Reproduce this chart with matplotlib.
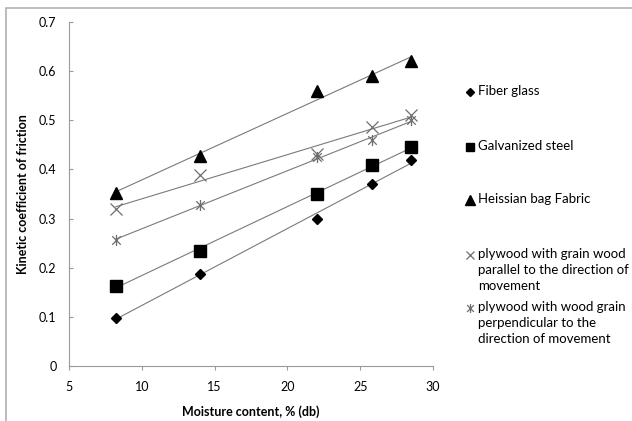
import numpy as np
import matplotlib
matplotlib.use("Agg")
import matplotlib.pyplot as plt
from matplotlib.path import Path
from matplotlib.lines import Line2D
from matplotlib.patches import Rectangle

plt.rcParams["font.family"] = ["Lato", "DejaVu Sans"]

moisture = [8.2, 14.0, 22.0, 25.8, 28.5]
fiber_glass = [0.097, 0.188, 0.300, 0.370, 0.420]
galvanized = [0.163, 0.235, 0.350, 0.408, 0.445]
heissian = [0.352, 0.428, 0.560, 0.590, 0.620]
ply_parallel = [0.320, 0.388, 0.432, 0.487, 0.510]
ply_perpendicular = [0.257, 0.327, 0.425, 0.460, 0.500]

labels = ["Fiber glass", "Galvanized steel", "Heissian bag Fabric",
          "plywood with grain wood\nparallel to the direction of\nmovement",
          "plywood with wood grain\nperpendicular to the\ndirection of movement"]

# Excel-style star marker: an x with a vertical bar
star = Path([(-1, -1), (1, 1), (-1, 1), (1, -1), (0, -1.3), (0, 1.3)],
            [Path.MOVETO, Path.LINETO, Path.MOVETO, Path.LINETO, Path.MOVETO, Path.LINETO])

series = [
    (fiber_glass, dict(marker="D", ms=5.5, color="black", mec="black")),
    (galvanized, dict(marker="s", ms=8, color="black", mec="black")),
    (heissian, dict(marker="^", ms=8.5, color="black", mec="black")),
    (ply_parallel, dict(marker="x", ms=8, color="#6e6e6e", mew=0.9)),
    (ply_perpendicular, dict(marker=star, ms=8, color="#6e6e6e", mew=0.9)),
]

fig = plt.figure(figsize=(6.32, 4.21), dpi=100)
ax = fig.add_axes([69 / 632, 55 / 421, 364 / 632, 344 / 421])

x = np.array(moisture)
xs = np.array([x.min(), x.max()])
for vals, style in series:
    k, b = np.polyfit(x, vals, 1)
    ax.plot(xs, k * xs + b, color="#7a7a7a", lw=0.8, zorder=2)
    ax.plot(x, vals, ls="none", zorder=3, **style)

ax.set_xlim(5, 30)
ax.set_ylim(0, 0.7)
ax.set_xticks([5, 10, 15, 20, 25, 30])
ax.set_yticks(np.arange(0, 0.71, 0.1))
ax.set_yticklabels(["0", "0.1", "0.2", "0.3", "0.4", "0.5", "0.6", "0.7"])
for s in ["top", "right"]:
    ax.spines[s].set_visible(False)
for s in ["left", "bottom"]:
    ax.spines[s].set_color("#9a9a9a")
    ax.spines[s].set_linewidth(0.8)
ax.tick_params(axis="y", direction="in", length=3, color="#9a9a9a", labelsize=9, pad=9)
ax.tick_params(axis="x", direction="out", length=3, color="#9a9a9a", labelsize=9, pad=8)
ax.set_xlabel("Moisture content, % (db)", fontsize=9, fontweight="bold", va="center")
ax.set_ylabel("Kinetic coefficient of friction", fontsize=9, fontweight="bold", va="center")
ax.xaxis.set_label_coords(0.5, (366 - 412) / 344)
ax.yaxis.set_label_coords((23 - 69) / 364, 0.5)

# chart border (Excel chart area)
fig.add_artist(Rectangle((6 / 632, -0.1), 1.2, (421 - 8) / 421 + 0.1,
                         transform=fig.transFigure, fill=False,
                         ec="#b0b0b0", lw=1.2))

# legend, drawn by hand to keep Excel's spacing
leg_y = [92, 147, 200, 255, 308]
for (vals, style), lab, yy in zip(series, labels, leg_y):
    st = dict(style)
    st["ms"] = st["ms"] * 0.8
    fig.add_artist(Line2D([470 / 632], [1 - yy / 421], transform=fig.transFigure,
                          ls="none", **st))
    fig.text(478 / 632, 1 - (yy - 7) / 421, lab, fontsize=9.5, va="top", ha="left",
             linespacing=1.4)

fig.savefig("out.png", dpi=100)
